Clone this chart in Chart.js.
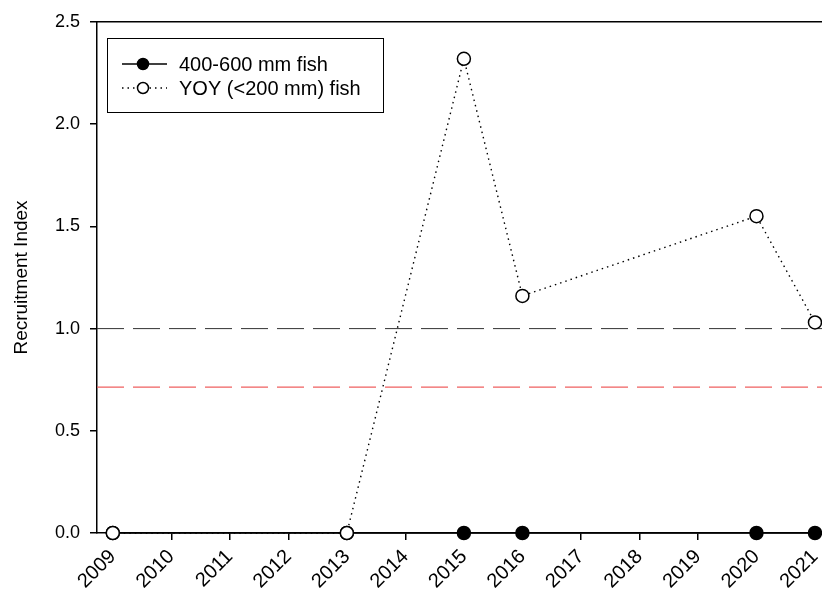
<!DOCTYPE html>
<html>
<head>
<meta charset="utf-8">
<script src="https://cdn.jsdelivr.net/npm/chart.js@4/dist/chart.umd.min.js"></script>
<style>
  html, body { margin: 0; padding: 0; background: #fff; }
  #wrap { width: 822px; height: 592px; position: relative; }
</style>
</head>
<body>
<div id="wrap"><canvas id="recruitChart"></canvas></div>
<script>
// data
var years = [2009, 2010, 2011, 2012, 2013, 2014, 2015, 2016, 2017, 2018, 2019, 2020, 2021];
var sampleYears = [2009, 2013, 2015, 2016, 2020, 2021];
var adultIndex = [0, 0, 0, 0, 0, 0];            // 400-600 mm fish
var yoyIndex = [0, 0, 2.32, 1.16, 1.55, 1.03];  // YOY (<200 mm) fish
var refBlack = 1.0;
var refRed = 0.714;
var yTicks = [0, 0.5, 1.0, 1.5, 2.0, 2.5];

// x range of the plot frame (a bit past first/last year)
var xMin = 2008.73;
var xMax = 2021.12;

function toPoints(xs, ys) {
    return xs.map(function (x, i) { return { x: x, y: ys[i] }; });
}

var FONT = "'Liberation Sans', Arial, sans-serif";

// legend box drawn inside the plot, top left
var boxLegend = {
    id: 'boxLegend',
    afterDraw: function (chart) {
        var ctx = chart.ctx;
        ctx.save();
        ctx.strokeStyle = '#000';
        ctx.lineWidth = 1;
        ctx.strokeRect(107.5, 38.5, 276, 74);
        var rows = [
            { label: '400-600 mm fish', y: 64, fill: '#000', dash: [] },
            { label: 'YOY (<200 mm) fish', y: 88, fill: '#fff', dash: [1.5, 4] }
        ];
        rows.forEach(function (r) {
            ctx.setLineDash(r.dash);
            ctx.lineWidth = 1.3;
            ctx.beginPath();
            ctx.moveTo(122, r.y);
            ctx.lineTo(167, r.y);
            ctx.stroke();
            ctx.setLineDash([]);
            ctx.beginPath();
            ctx.arc(143, r.y, 5.5, 0, Math.PI * 2);
            ctx.fillStyle = r.fill;
            ctx.fill();
            ctx.lineWidth = 1.5;
            ctx.stroke();
            ctx.fillStyle = '#000';
            ctx.font = '20px ' + FONT;
            ctx.textBaseline = 'middle';
            ctx.fillText(r.label, 179, r.y + 1);
        });
        ctx.restore();
    }
};

var ctx = document.getElementById('recruitChart').getContext('2d');
var chart = new Chart(ctx, {
    type: 'line',
    data: {
        datasets: [{
            label: 'YOY (<200 mm) fish',
            data: toPoints(sampleYears, yoyIndex),
            borderColor: '#000',
            borderWidth: 1.4,
            borderDash: [1.5, 4],
            pointRadius: 6.5,
            pointBackgroundColor: '#fff',
            pointBorderColor: '#000',
            pointBorderWidth: 1.5,
            clip: false
        }, {
            label: '400-600 mm fish',
            data: toPoints(sampleYears, adultIndex),
            borderColor: '#000',
            borderWidth: 1.5,
            pointRadius: 6.5,
            pointBackgroundColor: '#000',
            pointBorderColor: '#000',
            clip: false
        }, {
            label: 'ref1',
            data: toPoints([xMin, xMax], [refBlack, refBlack]),
            borderColor: '#333',
            borderWidth: 1,
            borderDash: [27, 9],
            pointRadius: 0
        }, {
            label: 'ref2',
            data: toPoints([xMin, xMax], [refRed, refRed]),
            borderColor: '#f06060',
            borderWidth: 1.2,
            borderDash: [27, 9],
            pointRadius: 0
        }]
    },
    options: {
        responsive: true,
        maintainAspectRatio: false,
        animation: false,
        layout: { autoPadding: false, padding: { top: 22, right: 0, left: 0, bottom: 0 } },
        plugins: {
            legend: { display: false },
            tooltip: { enabled: false }
        },
        scales: {
            x: {
                type: 'linear',
                min: xMin,
                max: xMax,
                afterBuildTicks: function (scale) {
                    scale.ticks = years.map(function (y) { return { value: y }; });
                },
                afterFit: function (scale) {
                    scale.height = 59;
                    scale.paddingLeft = 0;
                    scale.paddingRight = 0;
                },
                grid: { drawOnChartArea: false, tickLength: 7, color: '#000', lineWidth: 1.5 },
                border: { color: '#000', width: 1.5 },
                ticks: {
                    minRotation: 45,
                    maxRotation: 45,
                    padding: 5,
                    color: '#000',
                    font: { size: 20, family: FONT },
                    callback: function (v) { return String(v); }
                }
            },
            xTop: {
                type: 'linear',
                position: 'top',
                min: xMin,
                max: xMax,
                afterFit: function (scale) {
                    scale.height = 0;
                    scale.paddingLeft = 0;
                    scale.paddingRight = 0;
                },
                grid: { display: false },
                border: { color: '#000', width: 1.5 },
                ticks: { display: false }
            },
            y: {
                min: 0,
                max: 2.5,
                afterBuildTicks: function (scale) {
                    scale.ticks = yTicks.map(function (v) { return { value: v }; });
                },
                afterFit: function (scale) { scale.width = 97; },
                grid: { drawOnChartArea: false, tickLength: 7, color: '#000', lineWidth: 1.5 },
                border: { color: '#000', width: 1.5 },
                title: {
                    display: true,
                    text: 'Recruitment Index',
                    color: '#000',
                    font: { size: 19, family: FONT },
                    padding: { top: 10, bottom: 0 }
                },
                ticks: {
                    padding: 10,
                    color: '#000',
                    font: { size: 18, family: FONT },
                    callback: function (v) { return Number(v).toFixed(1); }
                }
            }
        }
    },
    plugins: [boxLegend]
});
</script>
</body>
</html>
